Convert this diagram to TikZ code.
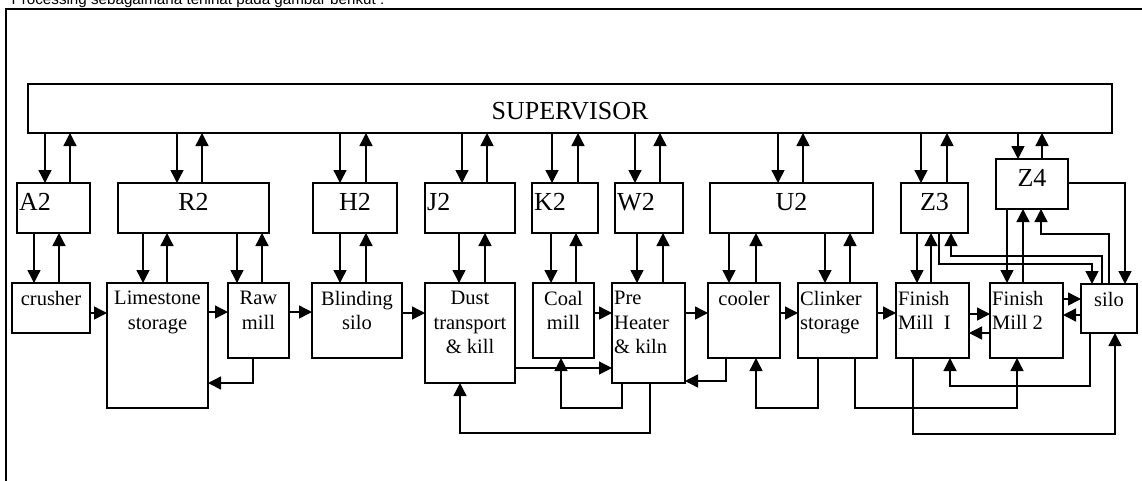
\documentclass[tikz,border=0pt]{standalone}
\usepackage{fontspec}
\setmainfont{Liberation Serif}
\newfontfamily\headfont{Liberation Sans}
\usetikzlibrary{arrows.meta}
\def\pageframe{(6,495) -- (6,9) -- (1160,9)}
\def\bigtext{\fontsize{26}{30}\selectfont}
\def\smalltext{\fontsize{20.5}{24.5}\selectfont}
\def\updown#1#2#3#4{% down from #1 to #2 at x=#3, back up at x=#4
  \draw[arr] (#3,0 |- #1.south) -- (#3,0 |- #2.north);
  \draw[arr] (#4,0 |- #2.north) -- (#4,0 |- #1.south);}
\def\flow#1#2#3{\draw[arr] (#1.east |- 0,#3) -- (#2.west |- 0,#3);}

\begin{document}
\begin{tikzpicture}[x=1pt,y=-1pt,
  unit/.style={draw,line width=1.5pt,anchor=north west,inner sep=0pt,outer sep=0pt},
  tag/.style={label={[font=\bigtext,inner sep=0pt,anchor=north,yshift=-10pt]north:#1}},
  tagl/.style={label={[font=\bigtext,inner sep=0pt,anchor=north west,xshift=2pt,yshift=-10pt]north west:#1}},
  txt/.style={label={[font=\smalltext,align=center,inner sep=0pt,anchor=north,yshift=-8pt]north:#1}},
  txtl/.style={label={[font=\smalltext,align=left,inner sep=0pt,anchor=north west,xshift=2pt,yshift=-8pt]north west:#1}},
  arr/.style={line width=1.4pt,-{Triangle[length=13pt,width=13pt]}}]
\useasboundingbox (0,0) rectangle (1142,480);
\node[font=\headfont\fontsize{15.2}{18}\selectfont,anchor=base west,inner sep=0pt] (caption) at (11.5,4.5)
  {Processing sebagaimana terlihat pada gambar berikut :};
\draw[line width=1.5pt] \pageframe;

\node[unit,minimum width=1084pt,minimum height=49pt,font=\bigtext,text height=21pt,text depth=0pt] (sup) at (28,84) {SUPERVISOR};

% controllers
\node[unit,minimum width=73pt,minimum height=50pt,tagl=A2] (a2) at (17,183) {};
\node[unit,minimum width=151pt,minimum height=50pt,tag=R2] (r2) at (118,183) {};
\node[unit,minimum width=84pt,minimum height=50pt,tag=H2] (h2) at (313,183) {};
\node[unit,minimum width=90pt,minimum height=50pt,tagl=J2] (j2) at (425,183) {};
\node[unit,minimum width=66pt,minimum height=50pt,tagl=K2] (k2) at (532,183) {};
\node[unit,minimum width=68pt,minimum height=50pt,tagl=W2] (w2) at (615,183) {};
\node[unit,minimum width=163pt,minimum height=50pt,tag=U2] (u2) at (710,183) {};
\node[unit,minimum width=67pt,minimum height=50pt,tag=Z3] (z3) at (901,183) {};
\node[unit,minimum width=72pt,minimum height=50pt,tag=Z4] (z4) at (996,159) {};

% plant
\node[unit,minimum width=78pt,minimum height=50pt,txt=crusher] (crusher) at (12,283) {};
\node[unit,minimum width=101pt,minimum height=125pt,txt={Limestone\\storage}] (lime) at (107,283) {};
\node[unit,minimum width=61pt,minimum height=75pt,txt={Raw\\mill}] (raw) at (228,283) {};
\node[unit,minimum width=90pt,minimum height=75pt,txt={Blinding\\silo}] (blind) at (312,283) {};
\node[unit,minimum width=90pt,minimum height=100pt,txt={Dust\\transport\\\& kill}] (dust) at (425,283) {};
\node[unit,minimum width=61pt,minimum height=75pt,txt={Coal\\mill}] (coal) at (533,283) {};
\node[unit,minimum width=73pt,minimum height=100pt,txtl={Pre\\Heater\\\& kiln}] (pre) at (612,283) {};
\node[unit,minimum width=72pt,minimum height=75pt,txt=cooler] (cooler) at (708,283) {};
\node[unit,minimum width=79pt,minimum height=75pt,txtl={Clinker\\storage}] (clinker) at (798,283) {};
\node[unit,minimum width=73pt,minimum height=75pt,txtl={Finish\\Mill~~I}] (fm1) at (896,283) {};
\node[unit,minimum width=73pt,minimum height=75pt,txtl={Finish\\Mill 2}] (fm2) at (990,283) {};
\node[unit,minimum width=56pt,minimum height=49pt,txt=silo] (silo) at (1081,284) {};

\updown{sup}{a2}{45}{70}
\updown{sup}{r2}{177}{202}
\updown{sup}{h2}{340}{366}
\updown{sup}{j2}{462}{487}
\updown{sup}{k2}{552}{578}
\updown{sup}{w2}{635}{660}
\updown{sup}{u2}{778}{803}
\updown{sup}{z3}{921}{947}
\updown{sup}{z4}{1018}{1042}

\updown{a2}{crusher}{34}{59}
\updown{r2}{lime}{143}{167}
\updown{r2}{raw}{237}{262}
\updown{h2}{blind}{340}{366}
\updown{j2}{dust}{459}{485}
\updown{k2}{coal}{551}{576}
\updown{w2}{pre}{637}{663}
\updown{u2}{cooler}{729}{756}
\updown{u2}{clinker}{825}{850}
\updown{z3}{fm1}{917}{931}
\updown{z4}{fm2}{1007}{1023}

\flow{crusher}{lime}{313}
\flow{lime}{raw}{312}
\flow{raw}{blind}{312}
\flow{blind}{dust}{313}
\flow{coal}{pre}{313}
\flow{pre}{cooler}{313}
\flow{cooler}{clinker}{313}
\flow{clinker}{fm1}{313}
\flow{fm1}{fm2}{314}
\flow{fm2}{silo}{299}
\flow{dust}{pre}{368}
\draw[arr] (fm2.west |- 0,333) -- (fm1.east |- 0,333);
\draw[arr] (silo.west |- 0,315) -- (fm2.east |- 0,315);

% returns underneath
\draw[arr] (253,0 |- raw.south) |- (lime.east |- 0,383);
\draw[arr] (726,0 |- cooler.south) |- (pre.east |- 0,381);
\draw[arr] (622,0 |- pre.south) -- (622,408) -| (561,0 |- coal.south);
\draw[arr] (650,0 |- pre.south) -- (650,433) -| (460,0 |- dust.south);
\draw[arr] (818,0 |- clinker.south) -- (818,408) -| (756,0 |- cooler.south);
\draw[arr] (855,0 |- clinker.south) -- (855,408) -| (1017,0 |- fm2.south);
\draw[arr] (1090,0 |- silo.south) -- (1090,386) -| (950,0 |- fm1.south);
\draw[arr] (913,0 |- fm1.south) -- (913,434) -| (1115,0 |- silo.south);

% Z3 and Z4 to the silo
\draw[arr] (z4.east |- 0,183) -| (1125,0 |- silo.north);
\draw[arr] (1109,0 |- silo.north) -- (1109,234) -| (1041,0 |- z4.south);
\draw[arr] (939,0 |- z3.south) -- (939,264) -| (1092,0 |- silo.north);
\draw[arr] (1102,0 |- silo.north) -- (1102,256) -| (951,0 |- z3.south);
\end{tikzpicture}
\end{document}
